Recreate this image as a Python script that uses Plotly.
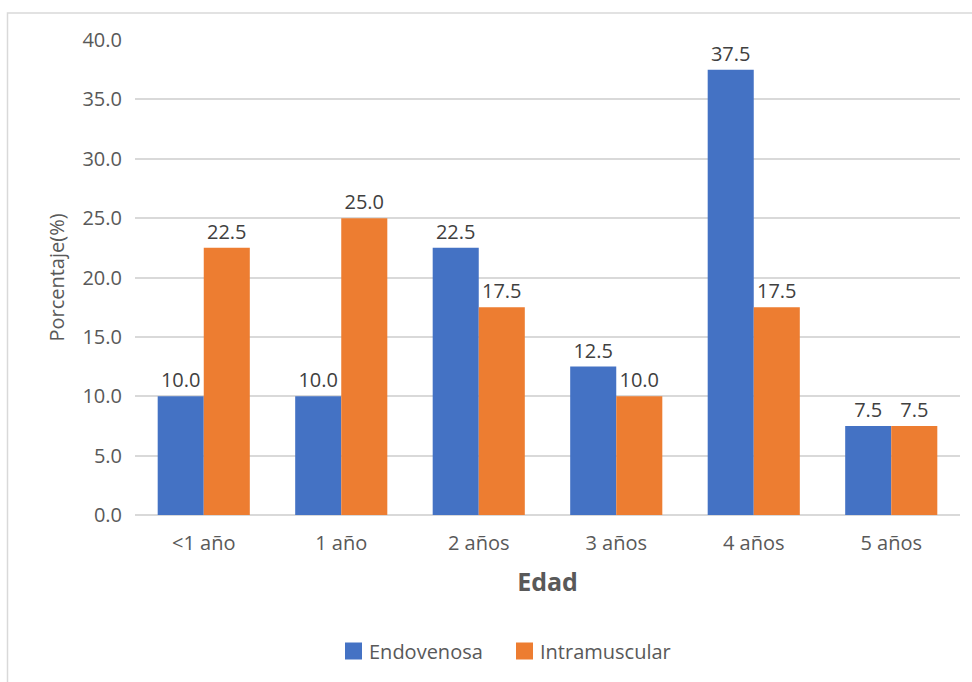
import plotly.graph_objects as go

# Age groups and percentage of each administration route
edades = ["<1 año", "1 año", "2 años", "3 años", "4 años", "5 años"]
endovenosa = [10.0, 10.0, 22.5, 12.5, 37.5, 7.5]
intramuscular = [22.5, 25.0, 17.5, 10.0, 17.5, 7.5]
y_ticks = [0, 5, 10, 15, 20, 25, 30, 35, 40]

series = [
    ("Endovenosa", endovenosa, "#4472C4"),
    ("Intramuscular", intramuscular, "#ED7D31"),
]

FONT = "Open Sans"
GRAY = "#595959"
SIZE = 20

fig = go.Figure()
for name, vals, color in series:
    fig.add_trace(go.Bar(
        name=name, x=edades, y=vals,
        marker=dict(color=color, line=dict(width=0)),
        text=[f"{v:.1f}" for v in vals], textposition="outside",
        textfont=dict(family=FONT, size=SIZE, color="#404040"),
        cliponaxis=False, showlegend=False,
    ))

L, R, T, B = 135, 12, 40, 167
W, H = 972, 682
pw, ph = W - L - R, H - T - B

def px_x(p):
    return (p - L) / pw

def px_y(p):
    return (H - B - p) / ph

# Legend drawn as swatches plus labels centred under the chart
legend_y = 651
swatch = 17
legend_x = [345, 516]
shapes = [dict(
    type="rect", xref="paper", yref="paper",
    x0=px_x(7.5), x1=px_x(980), y0=px_y(690), y1=px_y(13),
    line=dict(color="#d9d9d9", width=1.5), fillcolor="rgba(0,0,0,0)", layer="below",
)]
annotations = []
for (name, _, color), lx in zip(series, legend_x):
    shapes.append(dict(
        type="rect", xref="paper", yref="paper",
        x0=px_x(lx), x1=px_x(lx + swatch),
        y0=px_y(legend_y + swatch / 2), y1=px_y(legend_y - swatch / 2),
        fillcolor=color, line=dict(width=0),
    ))
    annotations.append(dict(
        text=name, xref="paper", yref="paper",
        x=px_x(lx + swatch + 5), y=px_y(legend_y),
        xanchor="left", yanchor="middle", showarrow=False,
        font=dict(family=FONT, size=SIZE, color=GRAY),
    ))

fig.update_layout(
    width=W, height=H,
    margin=dict(l=L, r=R, t=T, b=B),
    paper_bgcolor="white", plot_bgcolor="white",
    barmode="group", bargap=0.33, bargroupgap=0,
    font=dict(family=FONT, color=GRAY, size=SIZE),
    showlegend=False,
    xaxis=dict(
        showline=False, ticks="", showgrid=False,
        tickfont=dict(family=FONT, size=SIZE, color=GRAY),
        ticklabelstandoff=14,
        title=dict(text="<b>Edad</b>", font=dict(family=FONT, size=25, color=GRAY), standoff=18),
    ),
    yaxis=dict(
        range=[0, 40], tickvals=y_ticks,
        ticktext=[f"{v:.1f}" for v in y_ticks],
        showgrid=True, gridcolor="#d9d9d9", gridwidth=1.5,
        zeroline=True, zerolinecolor="#d9d9d9", zerolinewidth=1.5,
        showline=False, ticks="",
        tickfont=dict(family=FONT, size=SIZE, color=GRAY),
        ticklabelstandoff=12,
        title=dict(text="Porcentaje(%)", font=dict(family=FONT, size=SIZE, color=GRAY), standoff=12),
    ),
    shapes=shapes,
    annotations=annotations,
)

fig.write_html("out.html")
